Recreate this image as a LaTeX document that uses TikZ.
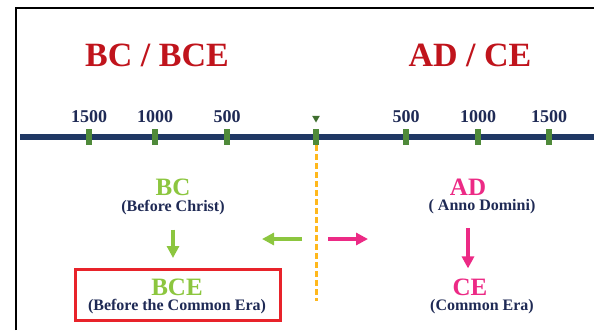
\documentclass[tikz,border=0pt]{standalone}
\usepackage{fontspec}
\setmainfont{Liberation Serif}
\usetikzlibrary{arrows.meta,positioning,calc,shapes.geometric}
\definecolor{titlered}{HTML}{C0141C}
\definecolor{navy}{HTML}{1F3864}
\definecolor{inkblue}{HTML}{1F2A55}
\definecolor{tickgreen}{HTML}{4F8A3A}
\definecolor{lime}{HTML}{8CC63F}
\definecolor{hotpink}{HTML}{EC2A85}
\definecolor{amber}{HTML}{FFB81C}
\definecolor{boxred}{HTML}{E8232A}

\tikzset{
  eratitle/.style={text=titlered,font=\bfseries\fontsize{34}{34}\selectfont,inner sep=0pt},
  yearlabel/.style={text=inkblue,font=\bfseries\fontsize{18}{18}\selectfont,inner sep=0pt},
  tick/.style={fill=tickgreen,draw=none,minimum width=6pt,minimum height=16pt,inner sep=0pt},
  eraname/.style={font=\bfseries\fontsize{25}{25}\selectfont,inner sep=0pt},
  eranote/.style={text=inkblue,font=\bfseries\fontsize{16}{16}\selectfont,inner sep=0pt},
  greenarrow/.style={lime,line width=4pt,-{Triangle[length=12pt,width=12pt]}},
  pinkarrow/.style={hotpink,line width=4pt,-{Triangle[length=12pt,width=12pt]}}
}

\begin{document}
\begin{tikzpicture}[x=1pt,y=-1pt]
      \useasboundingbox (0,0) rectangle (594,330);
      % frame
      \draw[black,line width=2pt] (16,330) -- (16,8) -- (594,8);
      % titles
      \node[eratitle] (bctitle) at (157,55) {BC / BCE};
      \node[eratitle] (adtitle) at (470,55) {AD / CE};
      % time line
      \coordinate (lineL) at (20,137);
      \coordinate (lineR) at (594,137);
      \draw[navy,line width=5.5pt] (lineL) -- (lineR);
      \foreach \x/\yr/\nm in {89/1500/bc1500,155/1000/bc1000,227/500/bc500,
                             406/500/ad500,478/1000/ad1000,549/1500/ad1500}{
        \node[tick] (t\nm) at (\x,137) {};
        \node[yearlabel] (l\nm) at (\x,117) {\yr};
      }
      \node[tick] (tzero) at (316,137) {};
      \node[fill=tickgreen!80!black,regular polygon,regular polygon sides=3,
            shape border rotate=180,minimum size=9pt,inner sep=0pt] (zero) at (316,118) {};
      % divider
      \coordinate (dashend) at (316,301);
      \draw[amber,line width=3pt,dash pattern=on 6pt off 3pt] (tzero.south) -- (dashend);
      % BC side
      \node[eraname,text=lime] (bc) at (173,187) {BC};
      \node[eranote] (bcnote) at (173,208) {(Before Christ)};
      \node[draw=boxred,line width=3pt,minimum width=205pt,minimum height=51pt,
            inner sep=0pt] (bcebox) at (178,295) {};
      \node[eraname,text=lime] (bce) at (177,287) {BCE};
      \node[eranote] (bcenote) at (177,307) {(Before the Common Era)};
      \draw[greenarrow,shorten <=14pt,shorten >=10pt] (bcnote.south -| bc) -- (bcebox.north -| bc);
      % AD side
      \node[eraname,text=hotpink] (ad) at (468,187) {AD};
      \node[eranote] (adnote) at (482,207) {( Anno Domini)};
      \node[eraname,text=hotpink] (ce) at (470,287) {CE};
      \node[eranote] (cenote) at (482,307) {(Common Era)};
      \draw[pinkarrow,shorten <=14pt,shorten >=10pt] (adnote.south -| ad) -- (ce.north -| ad);
      % sideways arrows
      \coordinate (mid) at (316,239);
      \draw[greenarrow] ([xshift=-14pt]mid) -- ([xshift=-54pt]mid);
      \draw[pinkarrow] ([xshift=12pt]mid) -- ([xshift=52pt]mid);
    \end{tikzpicture}
\end{document}
